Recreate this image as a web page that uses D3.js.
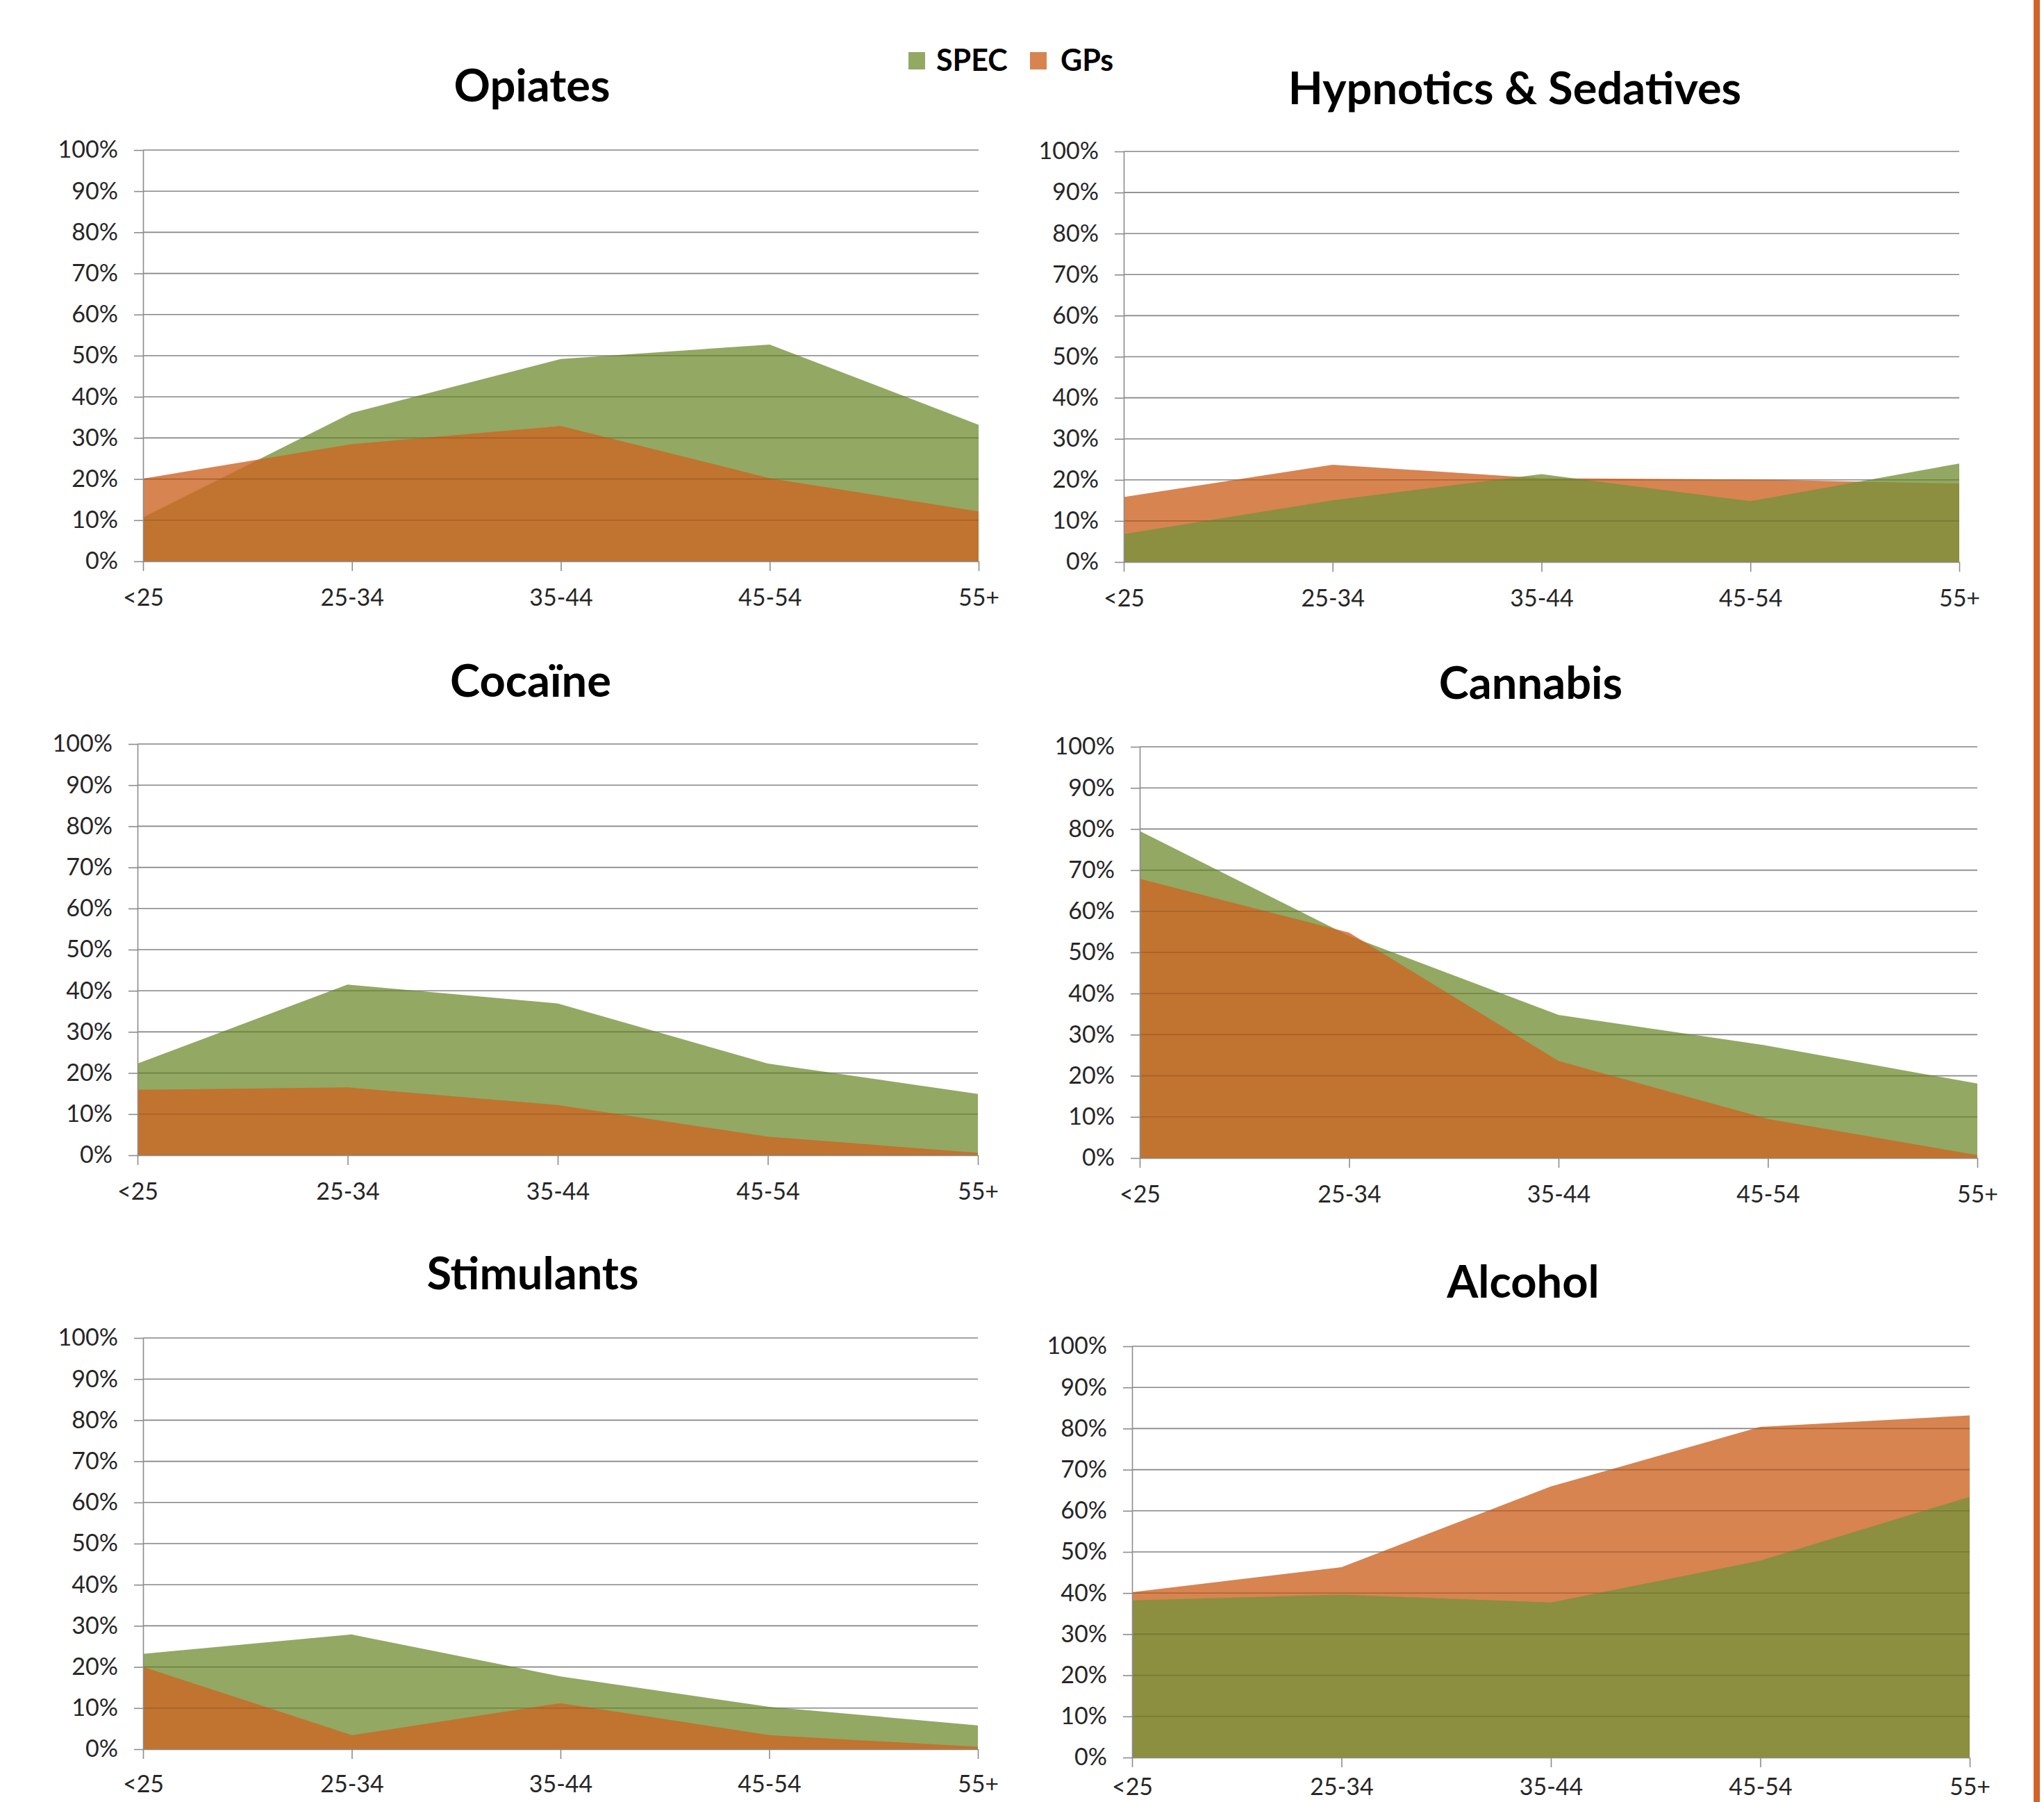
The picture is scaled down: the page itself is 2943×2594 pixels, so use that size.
<!DOCTYPE html>
<html>
<head>
<meta charset="utf-8">
<script src="https://cdn.jsdelivr.net/npm/d3@7"></script>
<style>
  html, body { margin: 0; padding: 0; background: #fff; }
  svg { display: block; }
  text { font-family: Lato, "Open Sans", "Liberation Sans", sans-serif; }
</style>
</head>
<body>
<svg id="chart" width="2943" height="2594"></svg>
<script>
// ---------- DATA ----------
const categories = ["<25", "25-34", "35-44", "45-54", "55+"];
const yTickValues = [0, 10, 20, 30, 40, 50, 60, 70, 80, 90, 100];
const seriesNames = ["SPEC", "GPs"];
const panelTitles = ["Opiates", "Hypnotics & Sedatives", "Cocaïne", "Cannabis", "Stimulants", "Alcohol"];

const specOpiates    = [10.7, 36.1, 49.2, 52.7, 33.2];
const gpsOpiates     = [20.1, 28.5, 32.9, 20.2, 12.1];
const specHypnotics  = [6.8, 15.0, 21.4, 14.8, 24.0];
const gpsHypnotics   = [15.8, 23.7, 20.4, 20.1, 19.1];
const specCocaine    = [22.3, 41.5, 36.9, 22.3, 14.9];
const gpsCocaine     = [15.9, 16.5, 12.2, 4.5, 0.6];
const specCannabis   = [79.5, 54.0, 34.8, 27.3, 18.1];
const gpsCannabis    = [67.9, 54.8, 23.6, 9.5, 0.7];
const specStimulants = [23.2, 27.9, 17.7, 10.3, 5.8];
const gpsStimulants  = [20.0, 3.4, 11.2, 3.4, 0.6];
const specAlcohol    = [38.2, 39.6, 37.7, 47.9, 63.4];
const gpsAlcohol     = [40.2, 46.3, 65.9, 80.4, 83.2];

// ---------- LAYOUT / STYLE ----------
const colors = { SPEC: "rgb(120,146,59)", GPs: "rgb(205,101,36)" };
const fillOpacity = 0.8;

const panels = [
  { title: panelTitles[0], spec: specOpiates,    gps: gpsOpiates,    L: 206,  R: 1409, T: 216,  B: 808,  tx: 766,  ty: 146,  top: "GPs",  pad: 26 },
  { title: panelTitles[1], spec: specHypnotics,  gps: gpsHypnotics,  L: 1618, R: 2821, T: 218,  B: 809,  tx: 2181, ty: 150,  top: "SPEC", pad: 26 },
  { title: panelTitles[2], spec: specCocaine,    gps: gpsCocaine,    L: 198,  R: 1408, T: 1071, B: 1663, tx: 764,  ty: 1003, top: "GPs",  pad: 26 },
  { title: panelTitles[3], spec: specCannabis,   gps: gpsCannabis,   L: 1641, R: 2847, T: 1075, B: 1667, tx: 2204, ty: 1006, top: "GPs",  pad: 26 },
  { title: panelTitles[4], spec: specStimulants, gps: gpsStimulants, L: 206,  R: 1408, T: 1926, B: 2518, tx: 767,  ty: 1856, top: "GPs",  pad: 24 },
  { title: panelTitles[5], spec: specAlcohol,    gps: gpsAlcohol,    L: 1630, R: 2836, T: 1938, B: 2530, tx: 2193, ty: 1868, top: "SPEC", pad: 16 }
];

const svg = d3.select("#chart");
svg.append("rect").attr("width", 2943).attr("height", 2594).attr("fill", "#fff");

panels.forEach(p => {
  const g = svg.append("g");
  const x = d3.scalePoint().domain(categories).range([p.L, p.R]).padding(0);
  const y = d3.scaleLinear().domain([0, 100]).range([p.B, p.T]);

  // gridlines (under)
  g.append("g").selectAll("line").data(yTickValues.filter(v => v > 0)).join("line")
    .attr("x1", p.L).attr("x2", p.R)
    .attr("y1", d => y(d)).attr("y2", d => y(d))
    .attr("stroke", "#9a9a9a").attr("stroke-width", 1.6);

  const area = d3.area()
    .x((d, i) => x(categories[i]))
    .y0(y(0))
    .y1(d => y(d));

  const order = p.top === "GPs" ? ["SPEC", "GPs"] : ["GPs", "SPEC"];
  order.forEach(name => {
    const vals = name === "SPEC" ? p.spec : p.gps;
    g.append("path")
      .datum(vals)
      .attr("d", area)
      .attr("fill", colors[name])
      .attr("fill-opacity", fillOpacity);
  });

  // faint gridline overlay (visible through fills)
  g.append("g").selectAll("line").data(yTickValues.filter(v => v > 0)).join("line")
    .attr("x1", p.L).attr("x2", p.R)
    .attr("y1", d => y(d)).attr("y2", d => y(d))
    .attr("stroke", "#000").attr("stroke-opacity", 0.12).attr("stroke-width", 1.6);

  // y axis
  const yAxis = d3.axisLeft(y)
    .tickValues(yTickValues)
    .tickFormat(d => d + "%")
    .tickSize(13)
    .tickSizeOuter(0)
    .tickPadding(23);
  const ya = g.append("g").attr("transform", `translate(${p.L},0)`).call(yAxis);
  ya.selectAll("path,line").attr("stroke", "#8c8c8c").attr("stroke-width", 1.6);
  ya.selectAll("text").attr("font-size", 34).attr("fill", "#262626")
    .style("font-family", "Lato, 'Open Sans', sans-serif");

  // x axis
  const xAxis = d3.axisBottom(x)
    .tickSize(14)
    .tickSizeOuter(0)
    .tickPadding(p.pad);
  const xa = g.append("g").attr("transform", `translate(0,${p.B})`).call(xAxis);
  xa.selectAll("path,line").attr("stroke", "#8c8c8c").attr("stroke-width", 1.6);
  xa.selectAll("text").attr("font-size", 34).attr("fill", "#262626")
    .style("font-family", "Lato, 'Open Sans', sans-serif");

  // title
  g.append("text")
    .attr("x", p.tx).attr("y", p.ty)
    .attr("text-anchor", "middle")
    .attr("font-size", 65)
    .attr("font-weight", "bold")
    .attr("fill", "#000")
    .text(p.title);
});

// legend
const legendItems = [
  { name: seriesNames[0], sx: 1308, tx: 1348, color: "rgb(147,168,98)" },
  { name: seriesNames[1], sx: 1483, tx: 1527, color: "rgb(215,132,80)" }
];
const lg = svg.append("g");
legendItems.forEach(it => {
  lg.append("rect").attr("x", it.sx).attr("y", 75).attr("width", 24).attr("height", 25).attr("fill", it.color);
  lg.append("text").attr("x", it.tx).attr("y", 102)
    .attr("font-size", 43).attr("font-weight", "bold").attr("fill", "#000")
    .text(it.name);
});

// right border line
svg.append("rect").attr("x", 2928).attr("y", 0).attr("width", 9).attr("height", 2594).attr("fill", "#D2642A");
</script>
</body>
</html>
